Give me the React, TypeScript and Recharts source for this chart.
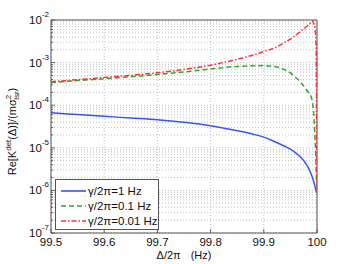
import React from 'react';
import { LineChart, Line, XAxis, YAxis, CartesianGrid, ReferenceArea } from 'recharts';

// Detuning Δ/2π (Hz)
const DELTA = [99.5, 99.55, 99.6, 99.65, 99.7, 99.75, 99.8, 99.85, 99.88, 99.9, 99.92, 99.94, 99.95, 99.96, 99.97, 99.98, 99.985, 99.99, 99.992, 99.994, 99.996, 99.998, 99.999, 100];
// γ/2π = 1 Hz
const GAMMA_1HZ = [6.61e-5, 6.03e-5, 5.5e-5, 5.01e-5, 4.57e-5, 3.98e-5, 3.31e-5, 2.51e-5, 2.09e-5, 1.78e-5, 1.41e-5, 1.07e-5, 9.33e-6, 7.59e-6, 5.89e-6, 4.07e-6, 3.16e-6, 2.24e-6, 1.91e-6, 1.58e-6, 1.26e-6, 1.0e-6, 9.33e-7, 8.91e-7];
// γ/2π = 0.1 Hz
const GAMMA_01HZ = [3.39e-4, 3.8e-4, 4.17e-4, 4.68e-4, 5.25e-4, 6.03e-4, 7.08e-4, 8.13e-4, 8.41e-4, 8.51e-4, 8.13e-4, 6.76e-4, 5.75e-4, 4.47e-4, 3.39e-4, 2.34e-4, 1.91e-4, 1.45e-4, 1.07e-4, 6.03e-5, 2.0e-5, 5.01e-6, 2.0e-6, 8.91e-7];
// γ/2π = 0.01 Hz
const GAMMA_001HZ = [3.55e-4, 3.98e-4, 4.47e-4, 5.01e-4, 5.75e-4, 6.92e-4, 8.71e-4, 1.2e-3, 1.51e-3, 1.82e-3, 2.19e-3, 3.02e-3, 3.55e-3, 4.37e-3, 5.5e-3, 6.92e-3, 7.94e-3, 9.12e-3, 9.55e-3, 8.32e-3, 6.31e-3, 3.16e-3, 3.16e-4, 8.91e-7];

const SERIES_NAMES = ['γ/2π=1 Hz', 'γ/2π=0.1 Hz', 'γ/2π=0.01 Hz'];
const X_TICKS = [99.5, 99.6, 99.7, 99.8, 99.9, 100];
const Y_MAJOR = [1e-7, 1e-6, 1e-5, 1e-4, 1e-3, 1e-2];
const Y_EXPONENTS = ['-7', '-6', '-5', '-4', '-3', '-2'];
const MINOR_MULT = [2, 3, 4, 5, 6, 7, 8, 9];

const Y_MINOR: number[] = [];
Y_MAJOR.slice(0, -1).forEach((d) => MINOR_MULT.forEach((m) => Y_MINOR.push(m * d)));
const Y_TICKS = [...Y_MAJOR, ...Y_MINOR].sort((a, b) => a - b);

const data = DELTA.map((x, i) => ({ x, g1: GAMMA_1HZ[i], g01: GAMMA_01HZ[i], g001: GAMMA_001HZ[i] }));

const FONT = '"Liberation Sans", Arial, Helvetica, sans-serif';
const BLUE = '#3355ff';
const GREEN = '#2eaa2e';
const RED = '#ff3030';
const AXIS = '#444';

const YTick = (props: any) => {
  const { x, y, payload } = props;
  const v = payload.value;
  const idx = Y_MAJOR.findIndex((d) => Math.abs(d - v) / d < 1e-6);
  const ax = x + 2;
  return (
    <g>
      <line x1={ax} x2={ax + (idx >= 0 ? 4 : 2)} y1={y} y2={y} stroke={AXIS} strokeWidth={0.8} />
      {idx >= 0 && (
        <text x={x} y={y} textAnchor="end" fontFamily={FONT} fill="#111">
          <tspan fontSize={11.5} dy={4}>10</tspan>
          <tspan fontSize={8} dy={-7}>{Y_EXPONENTS[idx]}</tspan>
        </text>
      )}
    </g>
  );
};

const XTick = (props: any) => {
  const { x, y, payload } = props;
  const ay = y - 5;
  return (
    <g>
      <line x1={x} x2={x} y1={ay} y2={ay - 4} stroke={AXIS} strokeWidth={0.8} />
      <text x={x} y={y} dy="0.71em" textAnchor="middle" fontFamily={FONT} fontSize={11.5} fill="#111">
        {String(payload.value)}
      </text>
    </g>
  );
};

const YLabel = (props: any) => {
  const vb = props.viewBox || {};
  const cx = 16;
  const cy = (vb.y ?? 20) + (vb.height ?? 213) / 2 + 5;
  return (
    <text transform={`translate(${cx},${cy}) rotate(-90)`} textAnchor="middle" fontFamily={FONT} fontSize={11} fill="#111">
      <tspan>Re[K</tspan>
      <tspan fontSize={8} dy={-5}>det</tspan>
      <tspan dy={5}>(Δ)]/(mσ</tspan>
      <tspan fontSize={8} dy={-5}>2</tspan>
      <tspan fontSize={8} dx={-5} dy={8}>lsr</tspan>
      <tspan dy={-3}>)</tspan>
    </text>
  );
};

const XLabel = (props: any) => {
  const vb = props.viewBox || {};
  const cx = (vb.x ?? 51) + (vb.width ?? 266) / 2;
  return (
    <text x={cx} y={259} textAnchor="middle" fontFamily={FONT} fontSize={11} fill="#111">
      <tspan>Δ/2π</tspan>
      <tspan dx={10}>(Hz)</tspan>
    </text>
  );
};

const LegendBox = () => {
  const items = [
    { name: SERIES_NAMES[0], color: BLUE, dash: undefined as string | undefined },
    { name: SERIES_NAMES[1], color: GREEN, dash: '5 3' },
    { name: SERIES_NAMES[2], color: RED, dash: '5 2 1.5 2' },
  ];
  return (
    <div
      style={{
        position: 'absolute',
        left: 55,
        top: 179,
        width: 104,
        height: 51,
        border: '1px solid #555',
        background: '#fff',
        boxSizing: 'border-box',
        fontFamily: FONT,
        fontSize: 11.5,
        color: '#111',
        paddingTop: 3,
      }}
    >
      {items.map((it) => (
        <div key={it.name} style={{ display: 'flex', alignItems: 'center', height: 15, whiteSpace: 'nowrap' }}>
          <svg width={32} height={10} style={{ flex: 'none' }}>
            <line x1={5} x2={30} y1={5} y2={5} stroke={it.color} strokeWidth={1.6} strokeDasharray={it.dash} />
          </svg>
          <span>{it.name}</span>
        </div>
      ))}
    </div>
  );
};

export default function App() {
  return (
    <div style={{ position: 'absolute', left: 0, top: 0, width: 350, height: 264, background: '#fff' }}>
      <LineChart width={350} height={264} data={data} margin={{ top: 20, right: 33, bottom: 0, left: 0 }}>
        <CartesianGrid stroke="#b4b4b4" strokeDasharray="1 2" strokeWidth={0.8} />
        <XAxis
          dataKey="x"
          type="number"
          domain={[99.5, 100]}
          ticks={X_TICKS}
          allowDataOverflow
          height={31}
          tickSize={0}
          tickMargin={5}
          axisLine={false}
          tickLine={false}
          tick={<XTick />}
          label={<XLabel />}
        />
        <YAxis
          type="number"
          scale="log"
          domain={[1e-7, 1e-2]}
          ticks={Y_TICKS}
          allowDataOverflow
          interval={0}
          width={51}
          tickSize={0}
          tickMargin={2}
          axisLine={false}
          tickLine={false}
          tick={<YTick />}
          label={<YLabel />}
        />
        <ReferenceArea x1={99.5} x2={100} y1={1e-7} y2={1e-2} fill="none" stroke="#555" strokeWidth={1} ifOverflow="visible" />
        <Line dataKey="g1" name={SERIES_NAMES[0]} stroke={BLUE} strokeWidth={1.5} dot={false} isAnimationActive={false} type="monotoneX" />
        <Line dataKey="g01" name={SERIES_NAMES[1]} stroke={GREEN} strokeWidth={1.5} strokeDasharray="5 3" dot={false} isAnimationActive={false} type="monotoneX" />
        <Line dataKey="g001" name={SERIES_NAMES[2]} stroke={RED} strokeWidth={1.5} strokeDasharray="5 2 1.5 2" dot={false} isAnimationActive={false} type="monotoneX" />
      </LineChart>
      <LegendBox />
    </div>
  );
}
